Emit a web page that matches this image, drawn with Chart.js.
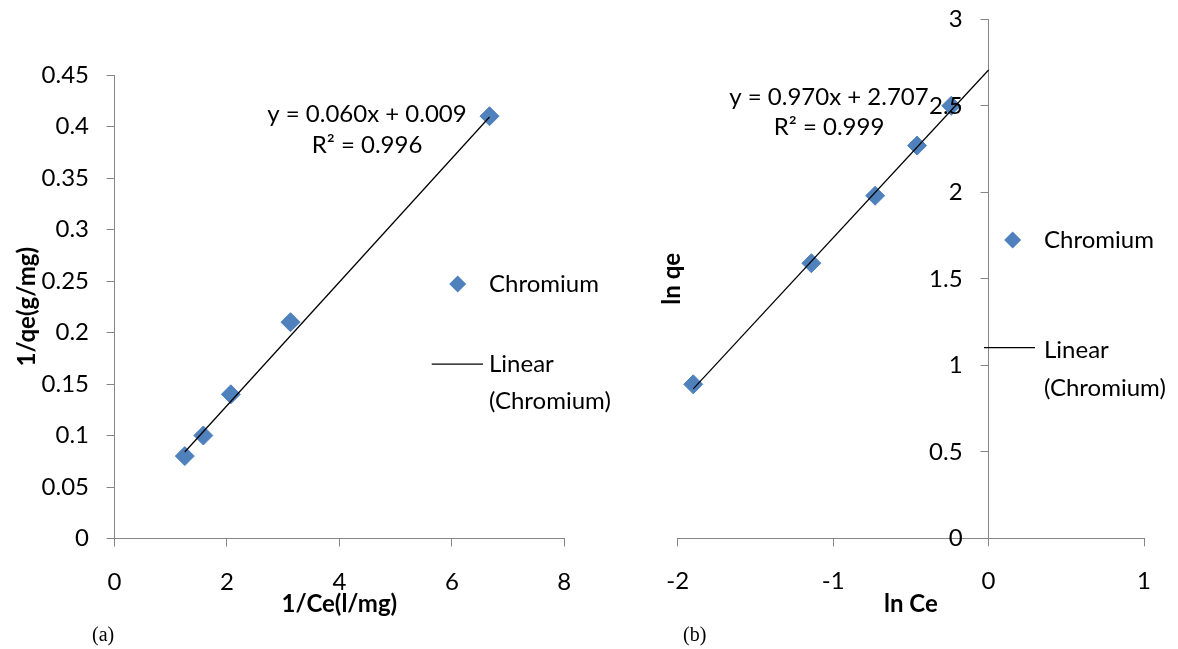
<!DOCTYPE html>
<html><head><meta charset="utf-8">
<script src="https://cdn.jsdelivr.net/npm/chart.js@4.4.1/dist/chart.umd.min.js"></script>
<style>
html,body{margin:0;padding:0;background:#fff;}
#wrap{position:relative;width:1178px;height:649px;overflow:hidden;background:#fff;}
#c1{position:absolute;left:0;top:0;width:640px;height:649px;}
#c2{position:absolute;left:640px;top:0;width:538px;height:649px;}
</style></head><body>
<div id="wrap"><canvas id="c1" width="640" height="649"></canvas><canvas id="c2" width="538" height="649"></canvas></div>
<script>
// ---------- data ----------
const seriesName = 'Chromium';
const trendName = 'Linear (Chromium)';
// (a) 1/qe vs 1/Ce
const invCe = [1.25, 1.58, 2.07, 3.13, 6.67];
const invQe = [0.08, 0.10, 0.14, 0.21, 0.41];
const fitA = [0.060, 0.009];      // slope, intercept
const r2A = 0.996;
const xTicksA = [0, 2, 4, 6, 8];
const xTickLabelsA = ['0', '2', '4', '6', '8'];
const yTicksA = [0, 0.05, 0.1, 0.15, 0.2, 0.25, 0.3, 0.35, 0.4, 0.45];
const yTickLabelsA = ['0', '0.05', '0.1', '0.15', '0.2', '0.25', '0.3', '0.35', '0.4', '0.45'];
// (b) ln qe vs ln Ce
const lnCe = [-1.90, -1.14, -0.73, -0.46, -0.24];
const lnQe = [0.89, 1.59, 1.98, 2.27, 2.50];
const fitB = [0.970, 2.707];
const r2B = 0.999;
const trendForwardB = 0;          // trendline extended forward to x = 0
const xTicksB = [-2, -1, 0, 1];
const xTickLabelsB = ['-2', '-1', '0', '1'];
const yTicksB = [0, 0.5, 1, 1.5, 2, 2.5, 3];
const yTickLabelsB = ['0', '0.5', '1', '1.5', '2', '2.5', '3'];

// ---------- styles ----------
const FONT = 'Lato, Carlito, Calibri, sans-serif';
const AXIS = '#868686';
const BLUE = '#4F81BD';
const FS = 24;

function pts(xs, ys) { return xs.map((x, i) => ({x: x, y: ys[i]})); }
function trend(fit, x0, x1) { return [{x: x0, y: fit[0] * x0 + fit[1]}, {x: x1, y: fit[0] * x1 + fit[1]}]; }

function axis(min, max, ticks, labels, pad, extra, tz) {
  return Object.assign({
    type: 'linear', min: min, max: max,
    afterBuildTicks: s => { s.ticks = ticks.map(v => ({value: v})); },
    ticks: { callback: (v, i) => labels[i], color: '#000', font: {family: FONT, size: FS}, autoSkip: false, maxRotation: 0, padding: pad, z: tz || 0 },
    grid: { drawOnChartArea: false, drawTicks: true, tickLength: 8, color: AXIS, lineWidth: 1 },
    border: { display: true, color: AXIS, width: 1 }
  }, extra);
}

function annot(o) {
  return {
    id: 'annot',
    afterDraw(chart) {
      const ctx = chart.ctx, ds = chart.data.datasets;
      ctx.save();
      ctx.fillStyle = '#000';
      ctx.font = FS + 'px ' + FONT;
      ctx.textBaseline = 'middle';
      ctx.textAlign = 'center';
      ctx.fillText(o.eq[0], o.eqX, o.eqY);
      ctx.fillText(o.eq[1], o.eqX, o.eqY + o.eqGap);
      // legend: marker entry
      const r = 8.5;
      ctx.fillStyle = ds[0].backgroundColor;
      ctx.beginPath();
      ctx.moveTo(o.mkX, o.mkY - r); ctx.lineTo(o.mkX + r, o.mkY);
      ctx.lineTo(o.mkX, o.mkY + r); ctx.lineTo(o.mkX - r, o.mkY);
      ctx.closePath(); ctx.fill();
      ctx.fillStyle = '#000';
      ctx.textAlign = 'left';
      ctx.fillText(ds[0].label, o.txX, o.mkY);
      // legend: trendline entry
      ctx.strokeStyle = ds[1].borderColor;
      ctx.lineWidth = ds[1].borderWidth;
      ctx.beginPath(); ctx.moveTo(o.lnX0, o.lnY); ctx.lineTo(o.lnX1, o.lnY); ctx.stroke();
      const parts = ds[1].label.split(' ');
      ctx.fillText(parts[0], o.txX, o.t1Y);
      ctx.fillText(parts.slice(1).join(' '), o.txX, o.t2Y);
      // panel label
      ctx.font = '20px "Liberation Serif", "Times New Roman", serif';
      ctx.fillText(o.panel, o.pX, o.pY);
      ctx.restore();
    }
  };
}

const common = {
  responsive: false, animation: false, events: [],
  plugins: { legend: {display: false}, tooltip: {enabled: false} }
};

// ---------- chart (a) ----------
new Chart(document.getElementById('c1'), {
  type: 'scatter',
  data: { datasets: [
    { label: seriesName, data: pts(invCe, invQe), pointStyle: 'rectRot', pointRadius: 9.5,
      backgroundColor: BLUE, borderColor: BLUE, borderWidth: 1, order: 2 },
    { label: trendName, type: 'line', data: trend(fitA, Math.min(...invCe), Math.max(...invCe)),
      borderColor: '#000', borderWidth: 1.25, pointRadius: 0, fill: false, order: 1 }
  ]},
  options: Object.assign({}, common, {
    layout: { padding: {left: 0, right: 640 - 564.3, top: 75, bottom: 649 - 538.5 - 80} },
    scales: {
      x: axis(0, 8, xTicksA, xTickLabelsA, 21, {
        position: 'bottom',
        afterFit: s => { s.height = 80; s.paddingLeft = 0; s.paddingRight = 0; },
        title: { display: true, text: '1/Ce(l/mg)', color: '#000', font: {family: FONT, size: FS, weight: 'bold'}, padding: {top: 0, bottom: 0} }
      }),
      y: axis(0, 0.45, yTicksA, yTickLabelsA, 17.5, {
        position: 'left',
        afterFit: s => { s.width = 114.5; s.paddingTop = 0; s.paddingBottom = 0; },
        title: { display: true, text: '1/qe(g/mg)', color: '#000', font: {family: FONT, size: FS, weight: 'bold'}, padding: {top: 12.6, bottom: 0} }
      })
    }
  }),
  plugins: [annot({
    eq: ['y = ' + fitA[0].toFixed(3) + 'x + ' + fitA[1].toFixed(3), 'R\u00B2 = ' + r2A.toFixed(3)],
    eqX: 367, eqY: 114, eqGap: 31,
    mkX: 457.7, mkY: 284, txX: 489,
    lnX0: 431.7, lnX1: 483, lnY: 364, t1Y: 364, t2Y: 401.7,
    panel: '(a)', pX: 92, pY: 636
  })]
});

// ---------- chart (b) ----------
const yAtZero = {
  id: 'yAtZero',
  afterLayout(chart) {
    const y = chart.scales.y, x = chart.scales.x;
    y.left = 0;
    y.right = x.getPixelForValue(0);
    y.width = y.right - y.left;
  }
};
new Chart(document.getElementById('c2'), {
  type: 'scatter',
  data: { datasets: [
    { label: seriesName, data: pts(lnCe, lnQe), pointStyle: 'rectRot', pointRadius: 9.5,
      backgroundColor: BLUE, borderColor: BLUE, borderWidth: 1, order: 2 },
    { label: trendName, type: 'line', data: trend(fitB, Math.min(...lnCe), trendForwardB),
      borderColor: '#000', borderWidth: 1.25, pointRadius: 0, fill: false, order: 1 }
  ]},
  options: Object.assign({}, common, {
    layout: { padding: {left: 677.7 - 640, right: 538 - (1144 - 640), top: 19.3, bottom: 649 - 538.3 - 80} },
    scales: {
      x: axis(-2, 1, xTicksB, xTickLabelsB, 21, {
        position: 'bottom',
        afterFit: s => { s.height = 80; s.paddingLeft = 0; s.paddingRight = 0; },
        title: { display: true, text: 'ln Ce', color: '#000', font: {family: FONT, size: FS, weight: 'bold'}, padding: {top: 0, bottom: 0} }
      }),
      y: axis(0, 3, yTicksB, yTickLabelsB, 18, {
        position: 'left',
        afterFit: s => { s.width = 0; s.paddingTop = 0; s.paddingBottom = 0; },
        title: { display: true, text: 'ln qe', color: '#000', font: {family: FONT, size: FS, weight: 'bold'}, padding: {top: 17.6, bottom: 0} }
      }, 1)
    }
  }),
  plugins: [yAtZero, annot({
    eq: ['y = ' + fitB[0].toFixed(3) + 'x + ' + fitB[1].toFixed(3), 'R\u00B2 = ' + r2B.toFixed(3)],
    eqX: 829 - 640, eqY: 97, eqGap: 30,
    mkX: 1012.7 - 640, mkY: 240, txX: 1044 - 640,
    lnX0: 984 - 640, lnX1: 1035 - 640, lnY: 347.7, t1Y: 350, t2Y: 388,
    panel: '(b)', pX: 683 - 640, pY: 636
  })]
});
</script>
</body></html>
